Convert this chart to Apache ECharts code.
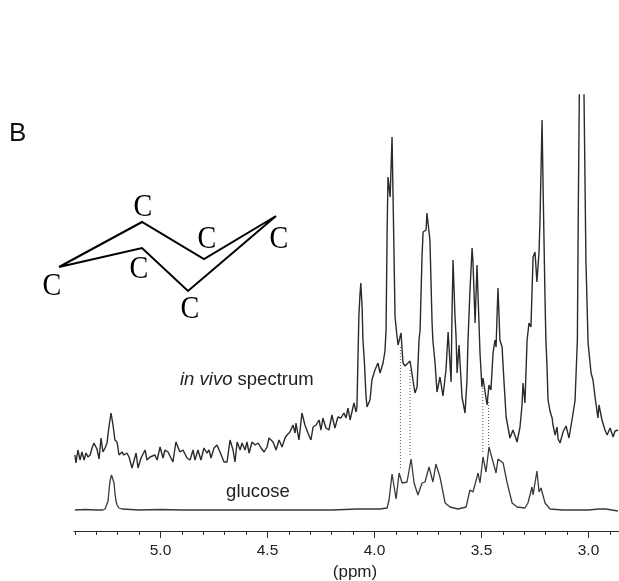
<!DOCTYPE html>
<html>
<head>
<meta charset="utf-8">
<title>in vivo spectrum</title>
<script src="https://cdn.jsdelivr.net/npm/echarts@6/dist/echarts.min.js"></script>
<style>
html, body { margin: 0; padding: 0; background: #fff; }
#chart { width: 619px; height: 581px; }
</style>
</head>
<body>
<div id="chart"></div>
<script>
// chemical shift (ppm) and peak height
var invivoPpm = [
    5.400, 5.395, 5.386, 5.376, 5.367, 5.357, 5.348, 5.339, 5.329, 5.320, 5.311, 5.297,
    5.287, 5.278, 5.269, 5.259, 5.250, 5.241, 5.231, 5.222, 5.213, 5.203, 5.194, 5.180,
    5.171, 5.157, 5.147, 5.133, 5.114, 5.105, 5.091, 5.072, 5.063, 5.049, 5.026, 5.016,
    5.002, 4.988, 4.979, 4.965, 4.956, 4.942, 4.928, 4.909, 4.895, 4.876, 4.862, 4.848,
    4.839, 4.825, 4.811, 4.797, 4.783, 4.773, 4.764, 4.750, 4.736, 4.722, 4.703, 4.689,
    4.675, 4.661, 4.652, 4.642, 4.628, 4.619, 4.605, 4.596, 4.586, 4.572, 4.558, 4.544,
    4.530, 4.516, 4.502, 4.493, 4.474, 4.460, 4.446, 4.432, 4.418, 4.409, 4.395, 4.381,
    4.371, 4.367, 4.353, 4.339, 4.325, 4.311, 4.297, 4.287, 4.273, 4.259, 4.250, 4.241,
    4.227, 4.213, 4.199, 4.185, 4.171, 4.157, 4.143, 4.133, 4.124, 4.114, 4.096, 4.086,
    4.082, 4.077, 4.073, 4.068, 4.064, 4.058, 4.054, 4.047, 4.040, 4.035, 4.030, 4.021,
    4.012, 3.998, 3.984, 3.974, 3.960, 3.951, 3.946, 3.941, 3.937, 3.927, 3.918, 3.913,
    3.904, 3.895, 3.890, 3.876, 3.867, 3.857, 3.848, 3.834, 3.825, 3.811, 3.801, 3.792,
    3.787, 3.778, 3.773, 3.759, 3.755, 3.741, 3.731, 3.727, 3.717, 3.708, 3.694, 3.680,
    3.666, 3.656, 3.642, 3.638, 3.633, 3.624, 3.619, 3.614, 3.605, 3.591, 3.577, 3.568,
    3.563, 3.554, 3.544, 3.540, 3.530, 3.521, 3.507, 3.498, 3.493, 3.484, 3.474, 3.465,
    3.456, 3.446, 3.437, 3.432, 3.428, 3.423, 3.418, 3.414, 3.404, 3.395, 3.385, 3.376,
    3.367, 3.353, 3.343, 3.334, 3.320, 3.311, 3.306, 3.297, 3.287, 3.278, 3.269, 3.259,
    3.250, 3.241, 3.231, 3.227, 3.217, 3.212, 3.203, 3.199, 3.194, 3.189, 3.180, 3.170,
    3.166, 3.156, 3.147, 3.142, 3.133, 3.119, 3.105, 3.091, 3.072, 3.063, 3.052, 3.048,
    3.043, 3.040, 3.030, 3.026, 3.021, 3.012, 3.002, 2.988, 2.979, 2.970, 2.956, 2.951,
    2.937, 2.923, 2.913, 2.899, 2.885, 2.876, 2.862
];
var invivoValues = [
    76, 68, 81, 71, 79, 71, 78, 74, 76, 83, 88, 82,
    72, 93, 79, 83, 88, 104, 118, 106, 91, 89, 76, 79,
    76, 78, 74, 63, 78, 63, 73, 81, 71, 74, 76, 71,
    84, 73, 81, 79, 79, 69, 89, 79, 81, 73, 71, 81,
    71, 81, 71, 83, 78, 81, 73, 83, 86, 79, 69, 69,
    91, 81, 69, 89, 81, 88, 81, 89, 78, 89, 86, 88,
    83, 79, 84, 93, 89, 81, 91, 84, 93, 96, 99, 106,
    98, 108, 91, 118, 106, 98, 91, 104, 106, 111, 101, 113,
    103, 101, 116, 103, 114, 113, 118, 113, 123, 111, 128, 119,
    124, 175, 215, 236, 248, 224, 191, 168, 136, 124, 124, 131,
    151, 161, 168, 158, 168, 180, 201, 300, 354, 334, 394, 331,
    214, 195, 186, 198, 168, 165, 163, 170, 169, 138, 144, 191,
    201, 274, 299, 301, 318, 291, 208, 190, 168, 139, 154, 135,
    161, 199, 149, 215, 271, 215, 195, 158, 186, 134, 118, 150,
    191, 240, 283, 270, 208, 266, 178, 144, 153, 140, 126, 146,
    141, 178, 191, 184, 211, 243, 215, 191, 184, 150, 114, 113,
    93, 101, 95, 89, 104, 125, 148, 128, 191, 208, 204, 274,
    279, 249, 280, 308, 411, 341, 230, 191, 165, 131, 120, 113,
    106, 96, 104, 92, 88, 99, 105, 93, 118, 130, 191, 313,
    436, 520, 560, 520, 436, 270, 188, 158, 151, 135, 113, 126,
    111, 101, 96, 103, 94, 100, 101
];

var glucosePpm = [
    5.400, 5.350, 5.300, 5.270, 5.259, 5.250, 5.245, 5.241, 5.236, 5.229, 5.222, 5.217,
    5.213, 5.208, 5.203, 5.194, 5.180, 5.100, 5.000, 4.900, 4.800, 4.600, 4.400, 4.200,
    4.080, 4.050, 3.974, 3.941, 3.932, 3.918, 3.899, 3.885, 3.871, 3.848, 3.829, 3.815,
    3.797, 3.778, 3.764, 3.745, 3.727, 3.713, 3.694, 3.670, 3.647, 3.610, 3.572, 3.554,
    3.540, 3.516, 3.507, 3.493, 3.479, 3.465, 3.446, 3.432, 3.423, 3.399, 3.381, 3.357,
    3.334, 3.297, 3.283, 3.264, 3.259, 3.241, 3.231, 3.222, 3.203, 3.180, 3.120, 3.000,
    2.950, 2.920, 2.862
];
var glucoseValues = [
    21, 21.5, 21, 21, 22, 24, 30, 40, 50, 56, 56, 48,
    38, 30, 26, 23, 22, 21, 21.5, 21, 21, 21, 21, 21,
    22, 22, 22, 23, 31, 57, 32, 58, 48, 49, 72, 48,
    36, 48, 49, 64, 49, 67, 54, 28, 24, 22, 24, 41,
    39, 58, 48, 74, 59, 84, 69, 58, 72, 68, 49, 28,
    24, 23, 28, 44, 36, 60, 39, 43, 28, 22, 21, 21,
    22, 22, 20
];

// dotted guides between the two spectra: [ppm, top, bottom]
var guideLines = [
    [3.879, 184, 63],
    [3.834, 161, 76],
    [3.494, 143, 78],
    [3.467, 129, 86]
];

var majorTicks = [5.0, 4.5, 4.0, 3.5, 3.0];
var minorTicks = [
    5.4, 5.3, 5.2, 5.1, 4.9, 4.8, 4.7, 4.6, 4.4, 4.3, 4.2, 4.1,
    3.9, 3.8, 3.7, 3.6, 3.4, 3.3, 3.2, 3.1, 2.9
];

var ppmMin = 2.8575;
var ppmMax = 5.4042;
var inkColor = '#2b2b2b';

function zip(xs, ys) {
    return xs.map(function (x, i) { return [x, ys[i]]; });
}

var guideData = [];
guideLines.forEach(function (g) {
    guideData.push([g[0], g[1]], [g[0], g[2]], [g[0], null]);
});

// ring atom label, a bit narrower than the plain serif glyph
function carbon(x, y) {
    return {
        type: 'text',
        x: x, y: y,
        scaleX: 0.88,
        style: {
            text: 'C',
            fontFamily: 'Liberation Serif',
            fontSize: 32,
            fill: '#000',
            align: 'center',
            verticalAlign: 'middle'
        }
    };
}

var myChart = echarts.init(document.getElementById('chart'), null, { renderer: 'canvas' });
var option = {
    animation: false,
    backgroundColor: '#fff',
    grid: { left: 74, top: 95, width: 545, height: 436 },
    xAxis: [{
        type: 'value',
        inverse: true,
        min: ppmMin,
        max: ppmMax,
        splitLine: { show: false },
        axisLine: { lineStyle: { color: inkColor, width: 1 } },
        axisTick: { customValues: majorTicks, length: 7, lineStyle: { color: inkColor } },
        axisLabel: {
            customValues: majorTicks,
            margin: 12,
            color: '#222',
            fontFamily: 'Liberation Sans',
            fontSize: 15.5,
            formatter: function (v) { return v.toFixed(1); }
        }
    }, {
        // second axis only for the short ticks
        type: 'value',
        inverse: true,
        position: 'bottom',
        min: ppmMin,
        max: ppmMax,
        splitLine: { show: false },
        axisLine: { show: false },
        axisLabel: { show: false },
        axisTick: { customValues: minorTicks, length: 4, lineStyle: { color: inkColor } }
    }],
    yAxis: { type: 'value', min: 0, max: 436, show: false },
    series: [{
        name: 'in vivo spectrum',
        type: 'line',
        data: zip(invivoPpm, invivoValues),
        showSymbol: false,
        lineStyle: { color: inkColor, width: 1.4 }
    }, {
        name: 'glucose',
        type: 'line',
        data: zip(glucosePpm, glucoseValues),
        showSymbol: false,
        lineStyle: { color: '#3a3a3a', width: 1.3 }
    }, {
        name: 'guides',
        type: 'line',
        data: guideData,
        showSymbol: false,
        connectNulls: false,
        lineStyle: { color: '#555', width: 1, type: [1, 2] }
    }],
    graphic: [
        {
            type: 'text', x: 9, y: 121,
            style: { text: 'B', fontFamily: 'Liberation Sans', fontSize: 26, fill: '#111' }
        },
        {
            // chair ring
            type: 'polyline',
            shape: { points: [[59, 267], [142, 222], [204, 259], [276, 216], [188, 291], [142, 248], [59, 267]] },
            style: { stroke: '#000', lineWidth: 2, fill: null }
        },
        carbon(143, 208), carbon(207, 240), carbon(279, 240),
        carbon(139, 270), carbon(52, 287), carbon(190, 310),
        {
            type: 'text', x: 180, y: 380,
            style: {
                text: '{i|in vivo} {n|spectrum}',
                verticalAlign: 'middle',
                rich: {
                    i: { fontFamily: 'Liberation Sans', fontStyle: 'italic', fontSize: 18.5, fill: '#222' },
                    n: { fontFamily: 'Liberation Sans', fontSize: 18.5, fill: '#222' }
                },
                fontFamily: 'Liberation Sans',
                fontSize: 18.5
            }
        },
        {
            type: 'text', x: 258, y: 492,
            style: {
                text: 'glucose', fontFamily: 'Liberation Sans', fontSize: 18.5, fill: '#222',
                align: 'center', verticalAlign: 'middle'
            }
        },
        {
            type: 'text', x: 355, y: 572,
            style: {
                text: '(ppm)', fontFamily: 'Liberation Sans', fontSize: 17, fill: '#222',
                align: 'center', verticalAlign: 'middle'
            }
        }
    ]
};
myChart.setOption(option);
</script>
</body>
</html>
